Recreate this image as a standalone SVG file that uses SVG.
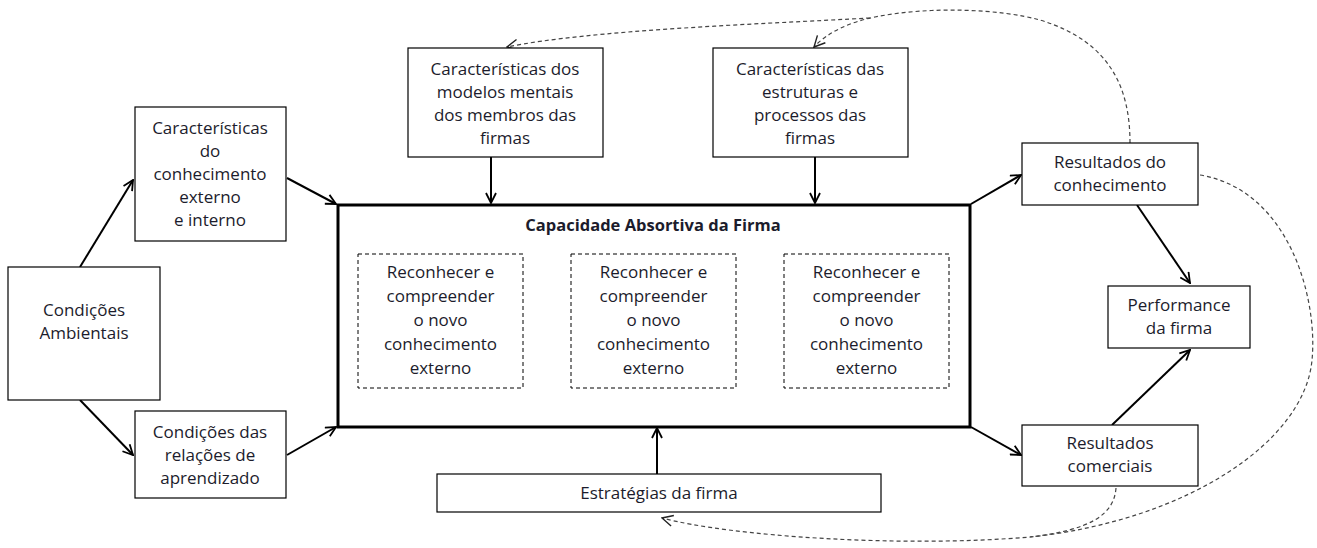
<svg xmlns="http://www.w3.org/2000/svg" width="1317" height="548" viewBox="0 0 1317 548">
<defs>
<style>
.box{fill:#fff;stroke:#000;stroke-width:1.2}
.main{fill:#fff;stroke:#000;stroke-width:3}
.dbox{fill:#fff;stroke:#000;stroke-width:1;stroke-dasharray:4 3}
.t{font-family:"Open Sans","Liberation Sans",Arial,sans-serif;font-size:17px;fill:#1c1c2c;text-anchor:middle}
.b{font-weight:bold;font-size:16.5px}
.arr{fill:none;stroke:#000;stroke-width:2;marker-end:url(#ah)}
.darr{fill:none;stroke:#000;stroke-width:2;stroke-dasharray:5 3;marker-end:url(#ah)}
.fb{fill:none;stroke:#444;stroke-width:1.2;stroke-dasharray:4 3}
.fba{fill:none;stroke:#444;stroke-width:1.2;stroke-dasharray:4 3;marker-end:url(#ah2)}
</style>
<marker id="ah" viewBox="0 0 12 12" refX="11" refY="6" markerWidth="12" markerHeight="12" markerUnits="userSpaceOnUse" orient="auto">
<path d="M1,1 L11,6 L1,11" fill="none" stroke="#000" stroke-width="1.8"/>
</marker>
<marker id="ah2" viewBox="0 0 12 12" refX="11" refY="6" markerWidth="13" markerHeight="13" markerUnits="userSpaceOnUse" orient="auto">
<path d="M1,1 L11,6 L1,11" fill="none" stroke="#222" stroke-width="1.3"/>
</marker>
</defs>
<rect width="1317" height="548" fill="#fff"/>

<g id="connectors">
<path class="arr" d="M80,267 L133,180"/>
<path class="arr" d="M80,400 L133,455"/>
<path class="arr" d="M287,178 L336,204"/>
<path class="arr" d="M287,455 L336,427"/>
<path class="arr" d="M491,157 L491,203"/>
<path class="arr" d="M815,157 L815,203"/>
<path class="arr" d="M657,474 L657,428"/>
<path class="arr" d="M971,204 L1021,175"/>
<path class="arr" d="M971,427 L1021,455"/>
<path class="arr" d="M1137,205 L1190,283"/>
<path class="arr" d="M1112,425 L1190,350"/>
<path class="darr" d="M524,320 L570,320"/>
<path class="darr" d="M737,320 L783,320"/>
<path class="fba" d="M1130,143 C1130,90 1112,42 1040,20 C1000,9 930,6 875,17 C850,22 828,32 814,47"/>
<path class="fba" d="M870,18 C760,24 590,30 507,47"/>
<path class="fba" d="M1200,175 C1290,190 1318,300 1312,360 C1305,440 1190,520 1030,537 C900,548 730,536 662,518"/>
<path class="fb" d="M1116,488 C1114,515 1090,530 1030,537"/>
</g>

<g id="condicoes-ambientais">
<rect class="box" x="8" y="267" width="152" height="133"/>
<text class="t" x="84" y="316">Condições</text>
<text class="t" x="84" y="339">Ambientais</text>
</g>
<g id="caracteristicas-conhecimento">
<rect class="box" x="135" y="107" width="151" height="134"/>
<text class="t" x="210" y="134">Características</text>
<text class="t" x="210" y="157">do</text>
<text class="t" x="210" y="180">conhecimento</text>
<text class="t" x="210" y="203">externo</text>
<text class="t" x="210" y="226">e interno</text>
</g>
<g id="condicoes-relacoes">
<rect class="box" x="135" y="411" width="151" height="87"/>
<text class="t" x="210" y="438">Condições das</text>
<text class="t" x="210" y="461">relações de</text>
<text class="t" x="210" y="484">aprendizado</text>
</g>
<g id="modelos-mentais">
<rect class="box" x="408" y="48" width="195" height="109"/>
<text class="t" x="505" y="75">Características dos</text>
<text class="t" x="505" y="98">modelos mentais</text>
<text class="t" x="505" y="121">dos membros das</text>
<text class="t" x="505" y="144">firmas</text>
</g>
<g id="estruturas-processos">
<rect class="box" x="713" y="48" width="195" height="109"/>
<text class="t" x="810" y="75">Características das</text>
<text class="t" x="810" y="98">estruturas e</text>
<text class="t" x="810" y="121">processos das</text>
<text class="t" x="810" y="144">firmas</text>
</g>
<g id="capacidade-absortiva">
<rect class="main" x="338" y="205" width="632" height="222"/>
<text class="t b" x="653" y="231">Capacidade Absortiva da Firma</text>
</g>
<g id="etapa1">
<rect class="dbox" x="358" y="254" width="165" height="134"/>
<text class="t" x="440.5" y="278">Reconhecer e</text>
<text class="t" x="440.5" y="302">compreender</text>
<text class="t" x="440.5" y="326">o novo</text>
<text class="t" x="440.5" y="350">conhecimento</text>
<text class="t" x="440.5" y="374">externo</text>
</g>
<g id="etapa2">
<rect class="dbox" x="571" y="254" width="165" height="134"/>
<text class="t" x="653.5" y="278">Reconhecer e</text>
<text class="t" x="653.5" y="302">compreender</text>
<text class="t" x="653.5" y="326">o novo</text>
<text class="t" x="653.5" y="350">conhecimento</text>
<text class="t" x="653.5" y="374">externo</text>
</g>
<g id="etapa3">
<rect class="dbox" x="784" y="254" width="165" height="134"/>
<text class="t" x="866.5" y="278">Reconhecer e</text>
<text class="t" x="866.5" y="302">compreender</text>
<text class="t" x="866.5" y="326">o novo</text>
<text class="t" x="866.5" y="350">conhecimento</text>
<text class="t" x="866.5" y="374">externo</text>
</g>
<g id="estrategias">
<rect class="box" x="437" y="474" width="444" height="38"/>
<text class="t" x="659" y="499">Estratégias da firma</text>
</g>
<g id="resultados-conhecimento">
<rect class="box" x="1022" y="143" width="176" height="62"/>
<text class="t" x="1110" y="168">Resultados do</text>
<text class="t" x="1110" y="191">conhecimento</text>
</g>
<g id="performance">
<rect class="box" x="1108" y="286" width="142" height="62"/>
<text class="t" x="1179" y="311">Performance</text>
<text class="t" x="1179" y="334">da firma</text>
</g>
<g id="resultados-comerciais">
<rect class="box" x="1022" y="425" width="176" height="61"/>
<text class="t" x="1110" y="449">Resultados</text>
<text class="t" x="1110" y="472">comerciais</text>
</g>
</svg>
